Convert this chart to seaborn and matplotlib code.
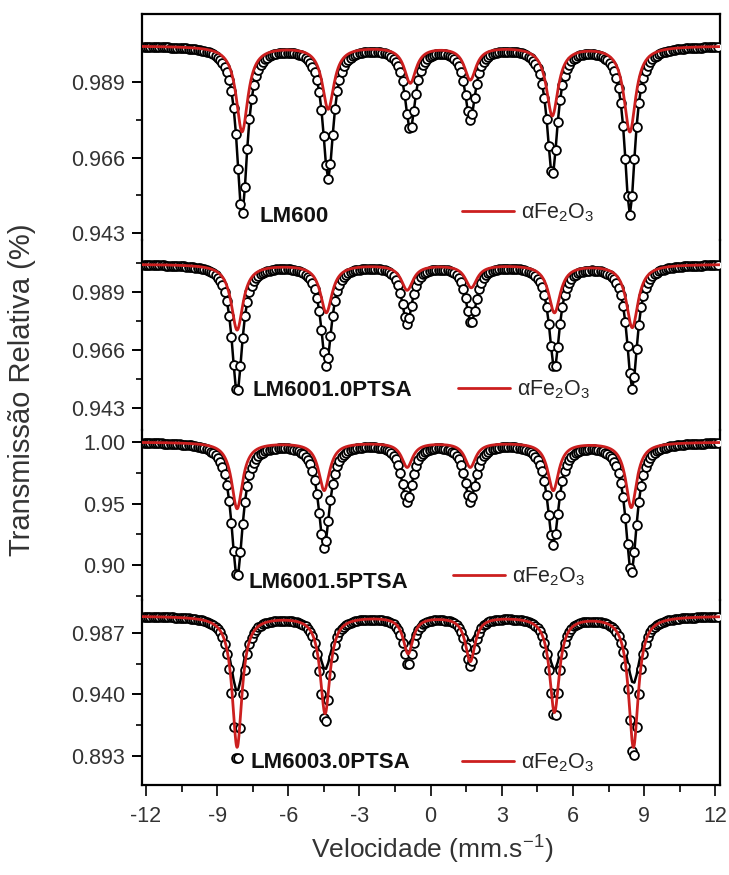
import numpy as np
import matplotlib
matplotlib.use("Agg")
import matplotlib.pyplot as plt
import seaborn as sns

## Mossbauer spectra of the four samples, alpha-Fe2O3 sextet fits

samples = ["LM600", "LM6001.0PTSA", "LM6001.5PTSA", "LM6003.0PTSA"]

# line centres (mm/s) read for each spectrum
pos_600 = [-7.95, -4.32, -0.86, 1.67, 5.13, 8.40]
pos_10 = [-8.16, -4.40, -0.99, 1.71, 5.22, 8.50]
pos_15 = [-8.16, -4.49, -0.99, 1.67, 5.17, 8.46]
pos_30 = [-8.16, -4.45, -0.95, 1.67, 5.22, 8.55]

# transmission at the bottom of each line: measured points
data_min_600 = [0.949, 0.960, 0.975, 0.978, 0.961, 0.949]
data_min_10 = [0.949, 0.960, 0.977, 0.977, 0.959, 0.951]
data_min_15 = [0.890, 0.915, 0.953, 0.953, 0.918, 0.894]
data_min_30 = [0.888, 0.919, 0.963, 0.963, 0.923, 0.892]

# black envelope line (follows the points except for LM6003.0PTSA)
line_min_600 = data_min_600
line_min_10 = data_min_10
line_min_15 = data_min_15
line_min_30 = [0.943, 0.960, 0.980, 0.982, 0.960, 0.949]

# red aFe2O3 fit
fit_min_600 = [0.974, 0.981, 0.989, 0.990, 0.979, 0.974]
fit_min_10 = [0.974, 0.981, 0.990, 0.991, 0.981, 0.975]
fit_min_15 = [0.946, 0.961, 0.980, 0.980, 0.961, 0.947]
fit_min_30 = [0.900, 0.926, 0.972, 0.966, 0.927, 0.900]

# half widths (mm/s): points, black line, red fit
widths = [(0.27, 0.27, 0.30), (0.27, 0.27, 0.30), (0.29, 0.29, 0.28), (0.25, 0.35, 0.25)]

# y ticks of each panel
major_ticks = [[0.943, 0.966, 0.989], [0.943, 0.966, 0.989], [0.90, 0.95, 1.00], [0.893, 0.940, 0.987]]
major_labels = [["0.943", "0.966", "0.989"], ["0.943", "0.966", "0.989"],
                ["0.90", "0.95", "1.00"], ["0.893", "0.940", "0.987"]]
minor_ticks = [[0.9545, 0.9775], [0.9545, 0.9775, 1.0005], [0.875, 0.925, 0.975], [0.9165, 0.9635]]
ylims = [(0.9409, 1.0097), (0.9342, 1.0096), (0.8715, 1.0098), (0.8708, 1.0122)]

positions = [pos_600, pos_10, pos_15, pos_30]
data_mins = [data_min_600, data_min_10, data_min_15, data_min_30]
line_mins = [line_min_600, line_min_10, line_min_15, line_min_30]
fit_mins = [fit_min_600, fit_min_10, fit_min_15, fit_min_30]

x_ticks = [-12, -9, -6, -3, 0, 3, 6, 9, 12]
x_minor = [-10.5, -7.5, -4.5, -1.5, 1.5, 4.5, 7.5, 10.5]

red = "#cc1f1f"

sns.set_theme(style="ticks")
plt.rcParams["font.family"] = ["Liberation Sans", "DejaVu Sans"]
plt.rcParams["mathtext.default"] = "regular"


def sextet(v, centres, minima, hwhm):
    y = np.ones_like(v)
    for c, m in zip(centres, minima):
        y -= (1 - m) / (1 + ((v - c) / hwhm) ** 2)
    return y


v_chan = np.linspace(-12.1, 12.1, 256)
v_fine = np.linspace(-12.2, 12.2, 1500)

fig = plt.figure(figsize=(7.29, 8.75), dpi=100)
W, H = 729, 875
left, right = 142, 720
bounds = [(14, 240), (240, 430), (430, 600), (600, 785)]
label_xy = [(0.204, 0.102), (0.191, 0.21), (0.185, 0.10), (0.187, 0.124)]
legend_xy = [(0.554, 0.119), (0.547, 0.21), (0.538, 0.135), (0.554, 0.119)]

for i in range(4):
    top, bot = bounds[i]
    ax = fig.add_axes([left / W, 1 - bot / H, (right - left) / W, (bot - top) / H])
    ax.patch.set_alpha(0)
    gd, gl, gf = widths[i]

    pts = sextet(v_chan, positions[i], data_mins[i], gd)
    env = sextet(v_chan, positions[i], line_mins[i], gl)
    fit = sextet(v_fine, positions[i], fit_mins[i], gf)

    sns.lineplot(x=v_chan, y=env, ax=ax, color="black", lw=1.8, estimator=None, sort=False, zorder=2)
    sns.scatterplot(x=v_chan, y=pts, ax=ax, marker="o", s=40, facecolor="white",
                    edgecolor="black", linewidth=1.3, zorder=3)
    sns.lineplot(x=v_fine, y=fit, ax=ax, color=red, lw=2.0, estimator=None, sort=False,
                 zorder=4, label=r"αFe$_2$O$_3$")

    ax.set_xlim(-12.17, 12.2)
    ax.set_ylim(*ylims[i])
    ax.set_xlabel("")
    ax.set_ylabel("")

    for s in ["left", "right", "top", "bottom"]:
        ax.spines[s].set_linewidth(1.6)
        ax.spines[s].set_color("black")
    ax.spines["top"].set_visible(i == 0)
    ax.spines["bottom"].set_visible(i == 3)

    ax.set_yticks(major_ticks[i])
    ax.set_yticklabels(major_labels[i])
    ax.set_yticks(minor_ticks[i], minor=True)
    ax.tick_params(axis="y", which="major", direction="out", length=7, width=1.4,
                   labelsize=15.5, pad=5, colors="black", labelcolor="#333333")
    ax.tick_params(axis="y", which="minor", direction="out", length=4, width=1.4)

    if i == 3:
        ax.set_xticks(x_ticks)
        ax.set_xticklabels([str(t) for t in x_ticks])
        ax.set_xticks(x_minor, minor=True)
        ax.tick_params(axis="x", which="major", direction="out", length=8, width=1.4,
                       labelsize=15.5, pad=7, labelcolor="#333333")
        ax.tick_params(axis="x", which="minor", direction="out", length=5, width=1.4)
    else:
        ax.tick_params(axis="x", which="both", bottom=False, labelbottom=False)

    ax.text(label_xy[i][0], label_xy[i][1], samples[i], transform=ax.transAxes,
            fontsize=16, fontweight="bold", va="center", ha="left", color="#111111")
    ax.legend(loc="center left", bbox_to_anchor=legend_xy[i], frameon=False,
              handlelength=2.4, handletextpad=0.35, borderpad=0, borderaxespad=0,
              fontsize=15.5)

fig.text(22 / W, 1 - 390 / H, "Transmissão Relativa (%)", rotation=90,
         fontsize=21, ha="center", va="center", color="#333333")
fig.text(432 / W, 1 - 850 / H, r"Velocidade (mm.s$^{-1}$)",
         fontsize=19, ha="center", va="center", color="#333333")

fig.savefig("out.png", dpi=100)
